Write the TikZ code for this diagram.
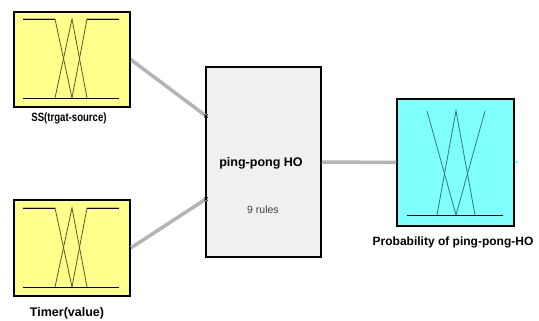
\documentclass[tikz,border=0pt]{standalone}
\usepackage{fontspec}
\setmainfont{Liberation Sans}
\newfontfamily\narrowbold[FakeStretch=0.8]{Liberation Sans Bold}
\definecolor{mfyellow}{HTML}{FFFF8C}
\definecolor{mfcyan}{HTML}{80FFFF}
\definecolor{rulegray}{HTML}{F0F0F0}
\definecolor{wiregray}{HTML}{B4B4B4}
\definecolor{olivecurve}{HTML}{5A5A28}
\definecolor{tealcurve}{HTML}{2E7A7A}
\tikzset{
  block/.style={draw=black, line width=1.5pt, inner sep=0pt},
  wire/.style={draw=wiregray, line width=3.5pt},
  mfline/.style={line width=0.8pt, line join=miter},
  caption/.style={font=\bfseries\fontsize{12.5}{14}\selectfont, inner sep=0pt},
}
\begin{document}
\begin{tikzpicture}[x=1pt,y=-1pt]
\useasboundingbox (0,0) rectangle (539,321);

% input blocks, rule block and output block
\node[block, fill=mfyellow, minimum width=116pt, minimum height=95pt] (ss) at (72,59.5) {};
\node[block, fill=mfyellow, minimum width=116pt, minimum height=96pt] (tm) at (72,248) {};
\node[block, fill=rulegray, minimum width=115pt, minimum height=190pt] (fis) at (263.5,162) {};
\node[block, fill=mfcyan, minimum width=117pt, minimum height=127pt] (out) at (455.5,162.5) {};

% input ports on the rule block
\coordinate (in1) at (206,116);
\coordinate (in2) at (206,199);

% wires
\draw[wire] (ss.east) -- (in1);
\draw[wire] (tm.east) -- (in2);
\draw[wire] (fis.east) -- (out.west);

% port ticks
\draw[line width=0.8pt] (in1) ++(-1.5,-1.5) -- ++(3,3) (in1) ++(-1.5,1.5) -- ++(3,-3);
\draw[line width=0.8pt] (in2) ++(-1.5,-1.5) -- ++(3,3) (in2) ++(-1.5,1.5) -- ++(3,-3);
\draw[line width=2.5pt] (206,158) -- (206,168);
\draw[line width=0.8pt] (ss.east) ++(0,-1.5) -- ++(0,3);
\draw[line width=0.8pt] (tm.east) ++(0,-1.5) -- ++(0,3);
\draw[mfcyan, line width=2pt] (out.east) -- ++(3,0);

% membership functions of the first input
\begin{scope}[mfline, draw=olivecurve]
  \draw[black] (23,98) -- (119,98);
  \draw (23,19) -- (55,19) -- (72,98);
  \draw (55,98) -- (72,19) -- (87,98);
  \draw (72,98) -- (87,19) -- (119,19);
  \draw[black] (23,19) -- (55,19) (87,19) -- (119,19);
\end{scope}

% membership functions of the second input
\begin{scope}[mfline, draw=olivecurve]
  \draw[black] (23,287) -- (119,287);
  \draw (23,208) -- (55,208) -- (72,287);
  \draw (55,287) -- (72,208) -- (87,287);
  \draw (72,287) -- (87,208) -- (119,208);
  \draw[black] (23,208) -- (55,208) (87,208) -- (119,208);
\end{scope}

% membership functions of the output
\begin{scope}[mfline, draw=tealcurve]
  \draw[black] (407,215) -- (503,215);
  \draw (427,111) -- (456,215);
  \draw (437,215) -- (456,111) -- (475,215);
  \draw (456,215) -- (485,111);
\end{scope}

% labels
\node[inner sep=0pt, font=\narrowbold\fontsize{12}{14}\selectfont] (ssl) at (69,118) {SS(trgat-source)};
\node[caption] (tml) at (67,313) {Timer(value)};
\node[caption, font=\bfseries\fontsize{12}{14}\selectfont] (outl) at (453,242) {Probability of ping-pong-HO};
\node[inner sep=0pt, font=\bfseries\fontsize{12.5}{14}\selectfont] (fisname) at (261,163) {ping-pong HO};
\node[inner sep=0pt, font=\fontsize{10.5}{12}\selectfont, text=black!75] (fisrules) at (263,210) {9 rules};
\end{tikzpicture}
\end{document}
